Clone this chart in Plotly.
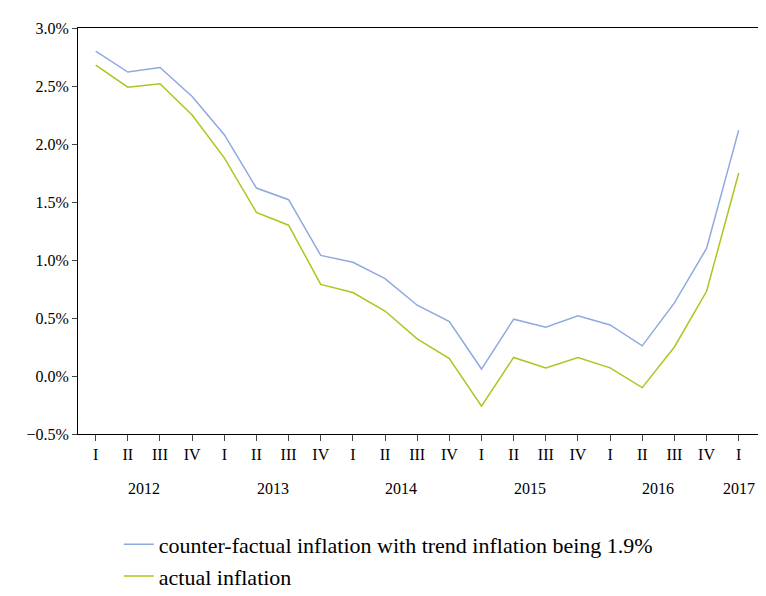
import plotly.graph_objects as go

quarters = ["I", "II", "III", "IV"] * 5 + ["I"]
years = ["2012", "2013", "2014", "2015", "2016", "2017"]
year_pos = [1.5, 5.5, 9.5, 13.5, 17.5, 20]
counter = [2.80, 2.62, 2.66, 2.41, 2.08, 1.62, 1.52, 1.04, 0.98, 0.84, 0.61,
           0.47, 0.06, 0.49, 0.42, 0.52, 0.44, 0.26, 0.63, 1.10, 2.12]
actual = [2.68, 2.49, 2.52, 2.25, 1.88, 1.41, 1.30, 0.79, 0.72, 0.56, 0.32,
          0.15, -0.26, 0.16, 0.07, 0.16, 0.07, -0.10, 0.25, 0.73, 1.75]
x = list(range(len(counter)))
serif = "Liberation Serif"

fig = go.Figure()
fig.add_trace(go.Scatter(x=x, y=counter, mode="lines", line=dict(color="#8fa9e0", width=1.5),
                         name="counter-factual inflation with trend inflation being 1.9%"))
fig.add_trace(go.Scatter(x=x, y=actual, mode="lines", line=dict(color="#a8c81e", width=1.5),
                         name="actual inflation"))

for yr, p in zip(years, year_pos):
    fig.add_annotation(x=p, y=-0.16, xref="x", yref="paper", text=yr, showarrow=False,
                       font=dict(family=serif, size=16, color="black"))

fig.update_layout(
    width=766, height=596, plot_bgcolor="white", paper_bgcolor="white",
    margin=dict(l=70, r=16, t=20, b=170),
    font=dict(family=serif, size=16, color="black"),
    legend=dict(x=0.06, y=0.135, xanchor="left", yanchor="top", yref="container",
                font=dict(family=serif, size=22), bgcolor="rgba(0,0,0,0)"),
    xaxis=dict(range=[-0.55, 20.6], tickvals=x, ticktext=quarters, showgrid=False,
               ticks="outside", ticklen=6, showline=True, linecolor="black", mirror=True,
               zeroline=False, tickfont=dict(family=serif, size=16)),
    yaxis=dict(range=[-0.5, 3.0], dtick=0.5, tickformat=".1f", ticksuffix="%",
               showgrid=False, ticks="outside", ticklen=5, showline=True,
               linecolor="black", mirror=True, zeroline=False,
               tickfont=dict(family=serif, size=16)),
)

fig.write_html("out.html")
